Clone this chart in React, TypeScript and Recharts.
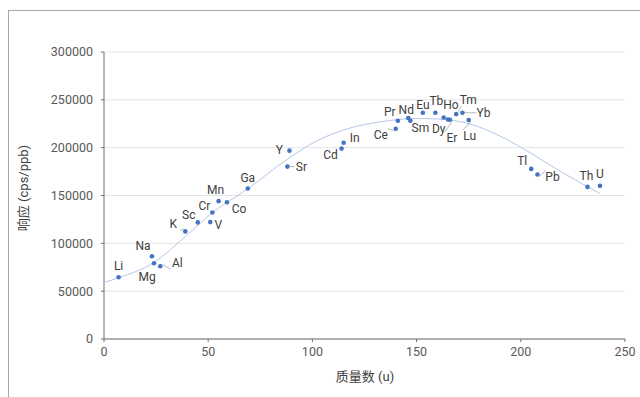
import React from "react";
import { ScatterChart, Scatter, XAxis, YAxis, CartesianGrid } from "recharts";

const elements = ["Li", "Na", "Mg", "Al", "K", "Sc", "V", "Cr", "Mn", "Co", "Ga", "Sr", "Y", "Cd", "In", "Ce", "Pr", "Nd", "Sm", "Eu", "Tb", "Dy", "Ho", "Er", "Tm", "Yb", "Lu", "Tl", "Pb", "Th", "U"];
const masses = [7, 23, 24, 27, 39, 45, 51, 52, 55, 59, 69, 88, 89, 114, 115, 140, 141, 146, 147, 153, 159, 163, 165, 166, 169, 172, 175, 205, 208, 232, 238];
const responses = [64500, 86500, 79200, 76000, 112500, 121900, 122200, 132300, 144100, 143000, 157300, 180200, 196900, 199000, 205200, 219800, 228100, 230900, 228100, 236500, 236500, 231600, 229500, 229200, 235100, 236500, 228800, 177800, 171900, 159000, 160100];

// trend line
const trendX = [0, 7, 24, 39, 52, 69, 88, 102, 118, 134, 150, 160, 176, 192, 205, 220, 238];
const trendY = [59000, 64000, 80000, 107000, 132000, 157000, 188000, 207000, 220500, 227500, 230500, 230000, 224500, 210000, 194000, 174000, 152000];

const xTicks = [0, 50, 100, 150, 200, 250];
const yTicks = [0, 50000, 100000, 150000, 200000, 250000, 300000];

// label placement (px from the dot)
const labelPos: Record<string, { dx: number; dy: number; leader?: boolean }> = {
  Li: { dx: 0, dy: -11 },
  Na: { dx: -9, dy: -10 },
  Mg: { dx: -7, dy: 14 },
  Al: { dx: 17, dy: -3, leader: true },
  K: { dx: -12, dy: -7, leader: true },
  Sc: { dx: -9, dy: -7 },
  V: { dx: 8, dy: 3 },
  Cr: { dx: -8, dy: -6 },
  Mn: { dx: -3, dy: -11 },
  Co: { dx: 12, dy: 7 },
  Ga: { dx: 0, dy: -11 },
  Sr: { dx: 14, dy: 0, leader: true },
  Y: { dx: -10, dy: -1 },
  Cd: { dx: -11, dy: 6 },
  In: { dx: 11, dy: -5 },
  Ce: { dx: -15, dy: 6, leader: true },
  Pr: { dx: -8, dy: -9 },
  Nd: { dx: -2, dy: -8 },
  Sm: { dx: 10, dy: 7 },
  Eu: { dx: 0, dy: -8 },
  Tb: { dx: 1, dy: -12 },
  Dy: { dx: -5, dy: 12 },
  Ho: { dx: 3, dy: -14 },
  Er: { dx: 2, dy: 18, leader: true },
  Tm: { dx: 12, dy: -14, leader: true },
  Yb: { dx: 21, dy: 0, leader: true },
  Lu: { dx: 1, dy: 16, leader: true },
  Tl: { dx: -9, dy: -8 },
  Pb: { dx: 15, dy: 2, leader: true },
  Th: { dx: -1, dy: -11 },
  U: { dx: 0, dy: -12 },
};

const points = elements.map((name, i) => ({ name, x: masses[i], y: responses[i] }));
const trend = trendX.map((x, i) => ({ x, y: trendY[i] }));

const font = "Roboto, 'Noto Sans CJK SC', sans-serif";

const Dot = (props: any) => {
  const { cx, cy, payload } = props;
  const p = labelPos[payload.name] || { dx: 0, dy: -10 };
  const lx = cx + p.dx;
  const ly = cy + p.dy;
  return (
    <g>
      {p.leader && (
        <line
          x1={cx + Math.sign(p.dx) * 2}
          y1={cy + Math.sign(p.dy) * 2}
          x2={lx - Math.sign(p.dx) * 7}
          y2={ly - Math.sign(p.dy) * 6}
          stroke="#a6a6a6"
          strokeWidth={0.8}
        />
      )}
      <circle cx={cx} cy={cy} r={2.3} fill="#4472c4" />
      <text x={lx} y={ly} textAnchor="middle" dominantBaseline="central" fontSize={12} fill="#404040" fontFamily={font}>
        {payload.name}
      </text>
    </g>
  );
};

export default function App() {
  return (
    <div style={{ position: "fixed", left: 0, top: 0, width: 640, height: 397, overflow: "hidden", background: "#fff" }}>
      <div style={{ position: "absolute", left: 8, top: 10, width: 700, height: 500, border: "1px solid #a6a6a6" }} />
      <div style={{ position: "absolute", left: 0, top: 0 }}>
        <ScatterChart width={640} height={397} margin={{ top: 52, right: 15, bottom: 0, left: 0 }}>
          <CartesianGrid vertical={false} stroke="#e4e4e4" />
          <XAxis
            type="number"
            dataKey="x"
            domain={[0, 250]}
            ticks={xTicks}
            height={58}
            tickSize={3}
            tickMargin={5}
            stroke="#6e6e6e"
            tick={{ fill: "#595959", fontSize: 12.5, fontFamily: font }}
          />
          <YAxis
            type="number"
            dataKey="y"
            domain={[0, 300000]}
            ticks={yTicks}
            width={104}
            tickSize={3}
            tickMargin={8}
            stroke="#6e6e6e"
            tick={{ fill: "#595959", fontSize: 12.5, fontFamily: font }}
          />
          <Scatter
            data={trend}
            line={{ stroke: "#b4c7e7", strokeWidth: 1 }}
            lineType="joint"
            lineJointType="monotoneX"
            shape={() => null}
            isAnimationActive={false}
          />
          <Scatter data={points} shape={Dot} isAnimationActive={false} />
        </ScatterChart>
      </div>
      <div
        style={{
          position: "absolute",
          left: 22,
          top: 188,
          transform: "translate(-50%, -50%) rotate(-90deg)",
          whiteSpace: "nowrap",
          fontSize: 13,
          color: "#404040",
          fontFamily: font,
        }}
      >
        响应 (cps/ppb)
      </div>
      <div
        style={{
          position: "absolute",
          left: 365,
          top: 375,
          transform: "translate(-50%, -50%)",
          whiteSpace: "nowrap",
          fontSize: 13,
          color: "#404040",
          fontFamily: font,
        }}
      >
        质量数 (u)
      </div>
    </div>
  );
}
